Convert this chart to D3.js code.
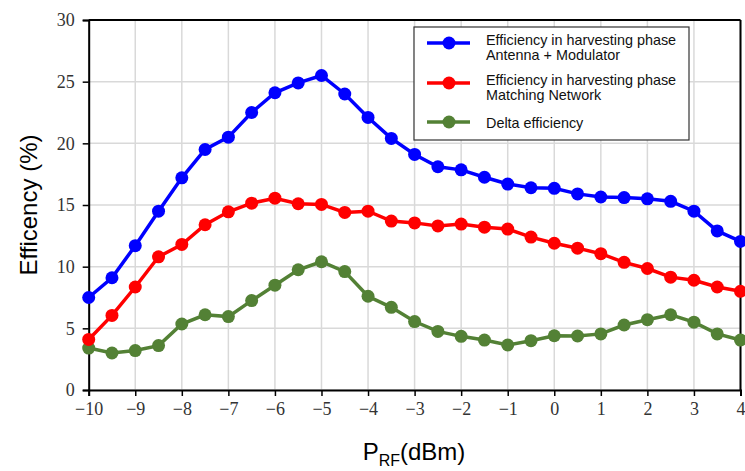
<!DOCTYPE html>
<html><head><meta charset="utf-8">
<script src="https://cdn.jsdelivr.net/npm/d3@7"></script>
<style>body{margin:0;background:#fff}</style>
</head><body>
<svg id="c" width="745" height="471"></svg>
<script>
const xValues = [-10,-9.5,-9,-8.5,-8,-7.5,-7,-6.5,-6,-5.5,-5,-4.5,-4,-3.5,-3,-2.5,-2,-1.5,-1,-0.5,0,0.5,1,1.5,2,2.5,3,3.5,4];
const antennaModulator = [7.5,9.1,11.7,14.5,17.2,19.5,20.5,22.5,24.1,24.9,25.5,24.0,22.1,20.4,19.1,18.1,17.85,17.25,16.7,16.4,16.35,15.9,15.65,15.6,15.5,15.3,14.5,12.9,12.05];
const matchingNetwork = [4.1,6.05,8.35,10.8,11.8,13.4,14.45,15.15,15.55,15.1,15.05,14.4,14.5,13.7,13.55,13.3,13.45,13.2,13.05,12.4,11.9,11.5,11.05,10.35,9.85,9.15,8.9,8.35,8.0];
const deltaEfficiency = [3.4,3.0,3.2,3.6,5.35,6.1,5.95,7.25,8.5,9.75,10.4,9.6,7.6,6.7,5.55,4.75,4.35,4.05,3.65,4.0,4.4,4.38,4.55,5.27,5.7,6.1,5.5,4.55,4.05];
const xTicks = [-10,-9,-8,-7,-6,-5,-4,-3,-2,-1,0,1,2,3,4];
const yTicks = [0,5,10,15,20,25,30];
const seriesNames = [["Efficiency in harvesting phase","Antenna + Modulator"],["Efficiency in harvesting phase","Matching Network"],["Delta efficiency"]];
const seriesColors = ["#0000ff","#ff0000","#538135"];

const svg = d3.select("#c");
const L=88.7, R=740.5, T=20, B=390;
const x = d3.scaleLinear().domain([-10,4]).range([L,R]);
const y = d3.scaleLinear().domain([0,30]).range([B,T]);

// grid
svg.append("g").selectAll("line").data(xTicks).join("line")
  .attr("x1",d=>x(d)).attr("x2",d=>x(d)).attr("y1",T).attr("y2",B)
  .attr("stroke","#d9d9d9").attr("stroke-width",1.5);
svg.append("g").selectAll("line").data(yTicks).join("line")
  .attr("x1",L).attr("x2",R).attr("y1",d=>y(d)).attr("y2",d=>y(d))
  .attr("stroke","#d9d9d9").attr("stroke-width",1.5);

// frame top/right
svg.append("line").attr("x1",L).attr("x2",R).attr("y1",T).attr("y2",T).attr("stroke","#000").attr("stroke-width",2);
svg.append("line").attr("x1",R).attr("x2",R).attr("y1",T).attr("y2",B).attr("stroke","#000").attr("stroke-width",2);

// axes
const xAxis = svg.append("g").attr("transform",`translate(0,${B})`)
  .call(d3.axisBottom(x).tickValues(xTicks).tickSize(6).tickPadding(6).tickFormat(d=>d<0?"\u2212"+Math.abs(d):d));
const yAxis = svg.append("g").attr("transform",`translate(${L},0)`)
  .call(d3.axisLeft(y).tickValues(yTicks).tickSize(6).tickPadding(6));
[xAxis,yAxis].forEach(a=>{
  a.select(".domain").attr("stroke","#000").attr("stroke-width",2);
  a.selectAll(".tick line").attr("stroke","#000").attr("stroke-width",1.5);
  a.selectAll("text").attr("font-family","'Liberation Serif', serif").attr("font-size",18).attr("fill","#333");
});
yAxis.selectAll("text").attr("dx",-2);

// series
const allSeries = [antennaModulator, matchingNetwork, deltaEfficiency];
const line = d3.line().x((d,i)=>x(xValues[i])).y(d=>y(d));
allSeries.slice().reverse().forEach((s,ri)=>{
  const i = allSeries.length-1-ri;
  const g = svg.append("g");
  g.append("path").datum(s).attr("d",line).attr("fill","none").attr("stroke",seriesColors[i]).attr("stroke-width",3.5);
  g.selectAll("circle").data(s).join("circle")
    .attr("cx",(d,k)=>x(xValues[k])).attr("cy",d=>y(d)).attr("r",6.5).attr("fill",seriesColors[i]);
});

// legend
const lg = svg.append("g");
lg.append("rect").attr("x",414).attr("y",27).attr("width",275).attr("height",113)
  .attr("fill","#fff").attr("stroke","#333").attr("stroke-width",1.2);
const legY = [43,83,122];
seriesNames.forEach((names,i)=>{
  lg.append("line").attr("x1",427).attr("x2",470).attr("y1",legY[i]).attr("y2",legY[i])
    .attr("stroke",seriesColors[i]).attr("stroke-width",3.5);
  lg.append("circle").attr("cx",449).attr("cy",legY[i]).attr("r",6.5).attr("fill",seriesColors[i]);
  const t = lg.append("text").attr("x",486).attr("font-family","'Liberation Sans', Arial, sans-serif")
    .attr("font-size",14.4).attr("fill","#111");
  if(names.length===2){
    t.append("tspan").attr("x",486).attr("y",legY[i]+1.5).text(names[0]);
    t.append("tspan").attr("x",486).attr("y",legY[i]+17).text(names[1]);
  } else {
    t.attr("y",legY[i]+6).text(names[0]);
  }
});

// axis titles
svg.append("text").attr("transform","translate(37,205) rotate(-90)").attr("text-anchor","middle")
  .attr("font-family","'Liberation Sans', Arial, sans-serif").attr("font-size",24).attr("fill","#000")
  .text("Efficency (%)");
const xt = svg.append("text").attr("x",414).attr("y",460).attr("text-anchor","middle")
  .attr("font-family","'Liberation Sans', Arial, sans-serif").attr("font-size",24).attr("fill","#000");
xt.append("tspan").text("P");
xt.append("tspan").attr("font-size",16).attr("dy",6).text("RF");
xt.append("tspan").attr("dy",-6).text("(dBm)");
</script>
</body></html>
